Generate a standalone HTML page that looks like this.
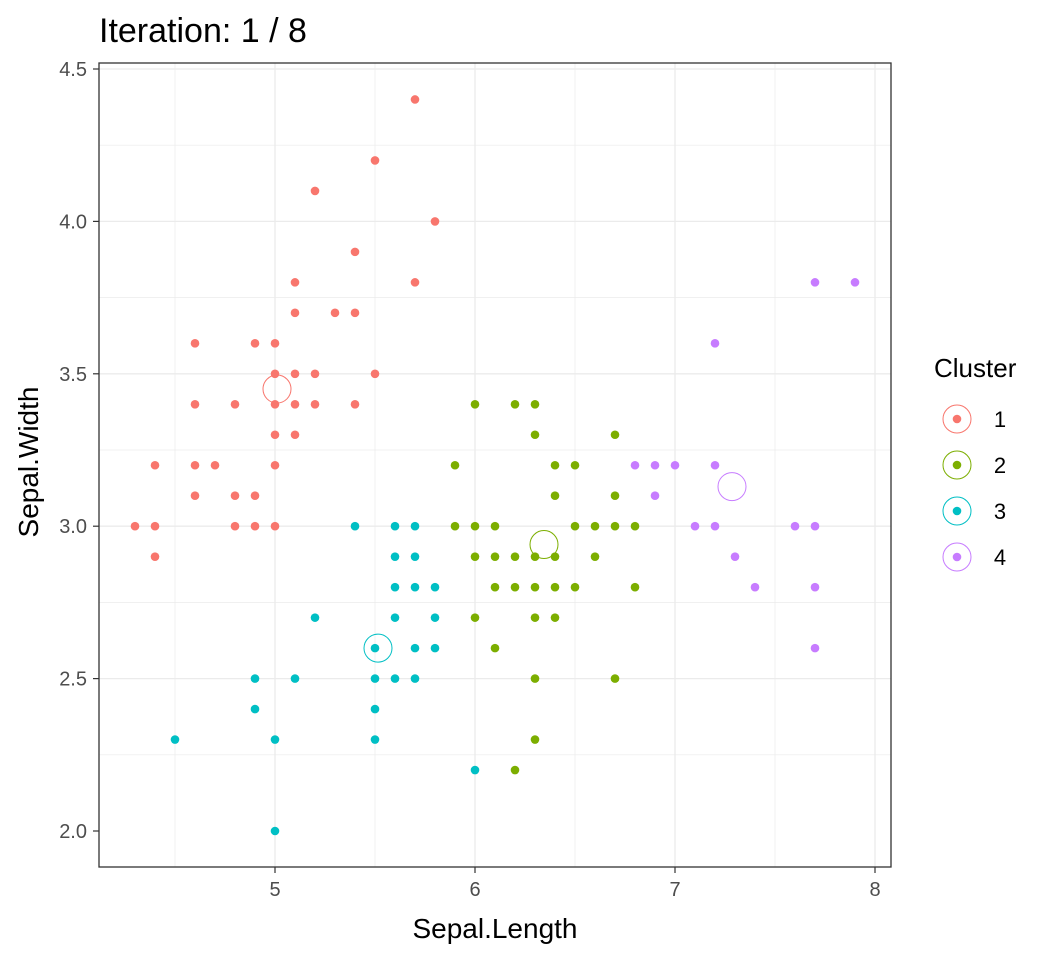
<!DOCTYPE html>
<html><head><meta charset="utf-8"><style>
body{margin:0;background:#fff}
svg text{font-family:"Liberation Sans",Arial,sans-serif}
</style></head><body>
<svg id="s" width="1056" height="960" xmlns="http://www.w3.org/2000/svg">
<rect width="1056" height="960" fill="#fff"/>
<g id="grid"></g>
<g id="pts"></g>
<rect x="99" y="63" width="792" height="804" fill="none" stroke="#333" stroke-width="1.3"/>
<g id="axes" font-size="20" fill="#4D4D4D"></g>
<text x="99" y="42" font-size="34" fill="#000">Iteration: 1 / 8</text>
<text x="495" y="938" font-size="28" text-anchor="middle" fill="#000">Sepal.Length</text>
<text transform="translate(38,462) rotate(-90)" font-size="28" text-anchor="middle" fill="#000">Sepal.Width</text>
<text x="934" y="377" font-size="26" fill="#000">Cluster</text>
<g id="leg"></g>
</svg>
<script>
const NS="http://www.w3.org/2000/svg";
const X=v=>275+(v-5)*200, Y=v=>831-(v-2)*304.8;
function el(p,t,a){const e=document.createElementNS(NS,t);for(const k in a)e.setAttribute(k,a[k]);p.appendChild(e);return e;}
const g=document.getElementById('grid'),ax=document.getElementById('axes');
for(let v=4.5;v<=8.01;v+=0.5){const maj=Math.abs(v-Math.round(v))<0.01;
 el(g,'line',{x1:X(v),x2:X(v),y1:63,y2:867,stroke:'#EBEBEB','stroke-width':maj?1.3:0.7});}
for(let v=2.25;v<=4.51;v+=0.25){const maj=Math.abs(v*2-Math.round(v*2))<0.01;
 el(g,'line',{x1:99,x2:891,y1:Y(v),y2:Y(v),stroke:'#EBEBEB','stroke-width':maj?1.3:0.7});}
for(let v=5;v<=8;v++){el(ax,'line',{x1:X(v),x2:X(v),y1:867,y2:873,stroke:'#333','stroke-width':1.2});
 const t=el(ax,'text',{x:X(v),y:896,'text-anchor':'middle'});t.textContent=v;}
for(let v=2;v<=4.51;v+=0.5){el(ax,'line',{x1:93,x2:99,y1:Y(v),y2:Y(v),stroke:'#333','stroke-width':1.2});
 const t=el(ax,'text',{x:87,y:Y(v)+7,'text-anchor':'end'});t.textContent=v.toFixed(1);}
const C=['#F8766D','#7CAE00','#00BFC4','#C77CFF'];
const D=[
[[5.7,4.4],[5.5,4.2],[5.2,4.1],[5.8,4.0],[5.4,3.9],[5.1,3.8],[5.7,3.8],[5.1,3.7],[5.3,3.7],[5.4,3.7],[4.6,3.6],[4.9,3.6],[5.0,3.6],[5.1,3.5],[5.2,3.5],[5.0,3.5],[5.5,3.5],[4.6,3.4],[4.8,3.4],[5.0,3.4],[5.1,3.4],[5.2,3.4],[5.4,3.4],[5.0,3.3],[5.1,3.3],[4.4,3.2],[4.6,3.2],[4.7,3.2],[5.0,3.2],[4.6,3.1],[4.8,3.1],[4.9,3.1],[4.3,3.0],[4.4,3.0],[4.8,3.0],[4.9,3.0],[5.0,3.0],[4.4,2.9]],
[[6.0,3.4],[6.2,3.4],[6.3,3.4],[6.3,3.3],[6.7,3.3],[5.9,3.2],[6.4,3.2],[6.5,3.2],[6.4,3.1],[6.7,3.1],[5.9,3.0],[6.0,3.0],[6.1,3.0],[6.5,3.0],[6.6,3.0],[6.7,3.0],[6.8,3.0],[6.0,2.9],[6.1,2.9],[6.2,2.9],[6.3,2.9],[6.4,2.9],[6.6,2.9],[6.1,2.8],[6.2,2.8],[6.3,2.8],[6.4,2.8],[6.5,2.8],[6.8,2.8],[6.0,2.7],[6.3,2.7],[6.4,2.7],[6.1,2.6],[6.3,2.5],[6.7,2.5],[6.3,2.3],[6.2,2.2]],
[[5.4,3.0],[5.6,3.0],[5.7,3.0],[5.6,2.9],[5.7,2.9],[5.6,2.8],[5.7,2.8],[5.8,2.8],[5.2,2.7],[5.6,2.7],[5.8,2.7],[5.5,2.6],[5.7,2.6],[5.8,2.6],[4.9,2.5],[5.1,2.5],[5.5,2.5],[5.6,2.5],[5.7,2.5],[4.9,2.4],[5.5,2.4],[4.5,2.3],[5.0,2.3],[5.5,2.3],[6.0,2.2],[5.0,2.0]],
[[7.7,3.8],[7.9,3.8],[7.2,3.6],[6.8,3.2],[6.9,3.2],[7.0,3.2],[7.2,3.2],[6.9,3.1],[7.1,3.0],[7.2,3.0],[7.6,3.0],[7.7,3.0],[7.3,2.9],[7.4,2.8],[7.7,2.8],[7.7,2.6]]];
const cen=[[5.01,3.45],[6.345,2.94],[5.515,2.60],[7.285,3.13]];
const p=document.getElementById('pts');
D.forEach((a,i)=>a.forEach(([x,y])=>el(p,'circle',{cx:X(x),cy:Y(y),r:4.3,fill:C[i]})));
cen.forEach(([x,y],i)=>el(p,'circle',{cx:X(x),cy:Y(y),r:14,fill:'none',stroke:C[i],'stroke-width':1}));
const L=document.getElementById('leg');
[419,465,511,557].forEach((y,i)=>{el(L,'circle',{cx:957,cy:y,r:4.3,fill:C[i]});
 el(L,'circle',{cx:957,cy:y,r:14,fill:'none',stroke:C[i],'stroke-width':1});
 const t=el(L,'text',{x:1000,y:y+8,'font-size':22,fill:'#000','text-anchor':'middle'});t.textContent=i+1;});
</script>
</body></html>
